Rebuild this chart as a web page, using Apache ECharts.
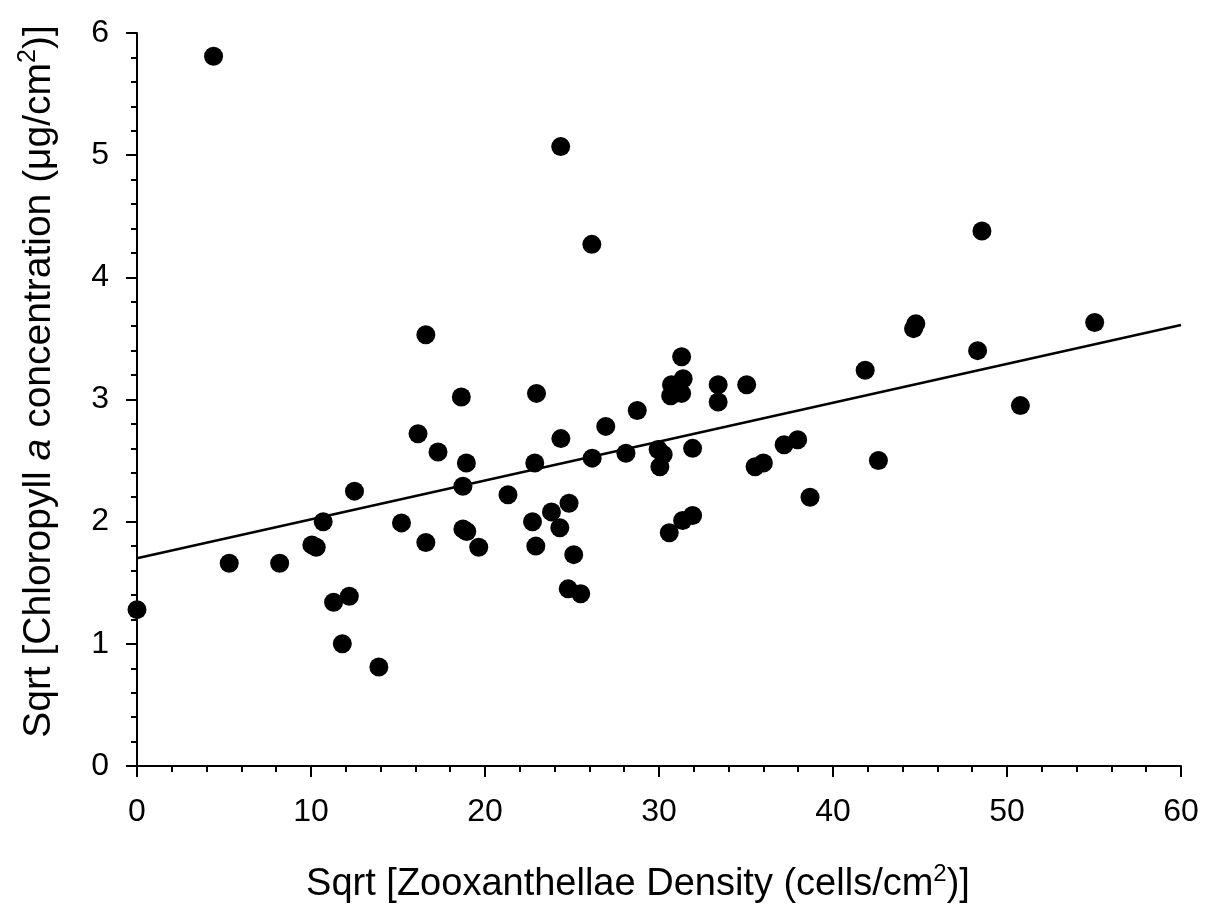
<!DOCTYPE html>
<html>
<head>
<meta charset="utf-8">
<title>Chlorophyll a vs Zooxanthellae density</title>
<script src="https://cdn.jsdelivr.net/npm/echarts@6/dist/echarts.min.js"></script>
<style>
  html, body { margin: 0; padding: 0; background: #ffffff; }
  #chart { width: 1207px; height: 919px; }
</style>
</head>
<body>
<div id="chart"></div>
<script>
// Sqrt of zooxanthellae density (cells/cm2) for each sample
const zooxDensity = [
  0, 4.4, 5.3, 8.2, 10.05, 10.3, 10.7, 11.3, 11.8, 12.2,
  12.5, 13.9, 15.2, 16.15, 16.6, 16.6, 17.3, 18.64, 18.73, 18.93,
  18.73, 18.95, 19.64, 21.32, 22.73, 22.86, 22.92, 22.96, 23.82, 24.3,
  24.36, 24.35, 24.83, 24.78, 25.1, 25.5, 26.16, 26.14, 26.94, 28.1,
  28.75, 29.95, 30.24, 30.05, 30.59, 30.72, 30.67, 31.3, 31.39, 31.3,
  31.36, 31.93, 31.93, 33.4, 33.4, 35.04, 35.52, 36.0, 37.19, 37.97,
  38.68, 41.85, 42.61, 44.63, 44.76, 48.31, 48.56, 50.77, 55.04
];

// Sqrt of chlorophyll a concentration (ug/cm2) for the same samples
const chlorophyllA = [
  1.28, 5.81, 1.66, 1.66, 1.81, 1.79, 2.0, 1.34, 1.0, 1.39,
  2.25, 0.81, 1.99, 2.72, 1.83, 3.53, 2.57, 3.02, 2.29, 2.48,
  1.94, 1.92, 1.79, 2.22, 2.0, 2.48, 1.80, 3.05, 2.08, 1.95,
  2.68, 5.07, 2.15, 1.45, 1.73, 1.41, 2.52, 4.27, 2.78, 2.56,
  2.91, 2.59, 2.55, 2.45, 1.91, 3.12, 3.03, 3.35, 3.17, 3.05,
  2.01, 2.60, 2.05, 3.12, 2.98, 3.12, 2.45, 2.48, 2.63, 2.67,
  2.20, 3.24, 2.50, 3.58, 3.62, 3.40, 4.38, 2.95, 3.63
];

// Least-squares fit line, end points at x = 0 and x = 60
const fitLineX = [0, 60];
const fitLineY = [1.70, 3.61];

// Axis tick values
const xTicks = [0, 10, 20, 30, 40, 50, 60];
const yTicks = [0, 1, 2, 3, 4, 5, 6];

const FONT = '"Liberation Sans", Arial, Helvetica, sans-serif';

const scatterData = zooxDensity.map((x, i) => [x, chlorophyllA[i]]);
const lineData = fitLineX.map((x, i) => [x, fitLineY[i]]);

const axisCommon = {
  type: 'value',
  axisLine: { show: true, onZero: false, lineStyle: { color: '#000', width: 2 } },
  axisTick: { show: true, inside: false, length: 11, lineStyle: { color: '#000', width: 2 } },
  minorTick: { show: true, splitNumber: 5, length: 6, lineStyle: { color: '#000', width: 2 } },
  splitLine: { show: false },
  minorSplitLine: { show: false },
  axisLabel: { color: '#000', fontFamily: FONT, fontSize: 32 }
};

function titleRich(size) {
  return {
    t: { fontFamily: FONT, fontSize: size, color: '#000', lineHeight: size + 8 },
    i: { fontFamily: FONT, fontSize: size, color: '#000', fontStyle: 'italic', lineHeight: size + 8 },
    sup: { fontFamily: FONT, fontSize: Math.round(size * 0.63), color: '#000', verticalAlign: 'top', lineHeight: size + 8 }
  };
}

const chart = echarts.init(document.getElementById('chart'), null, { renderer: 'canvas' });

chart.setOption({
  backgroundColor: '#ffffff',
  animation: false,
  grid: { left: 137, right: 26, top: 33, bottom: 153, containLabel: false },
  xAxis: Object.assign({}, axisCommon, {
    min: xTicks[0],
    max: xTicks[xTicks.length - 1],
    interval: xTicks[1] - xTicks[0],
    axisLabel: Object.assign({}, axisCommon.axisLabel, { margin: 30 }),
    name: '{t|Sqrt [Zooxanthellae Density (cells/cm}{sup|2}{t|)]}',
    nameLocation: 'middle',
    nameGap: 96,
    nameTextStyle: { rich: titleRich(38), padding: [0, 42, 0, 0] }
  }),
  yAxis: Object.assign({}, axisCommon, {
    min: yTicks[0],
    max: yTicks[yTicks.length - 1],
    interval: yTicks[1] - yTicks[0],
    axisLabel: Object.assign({}, axisCommon.axisLabel, { margin: 28 }),
    name: '{t|Sqrt [Chloropyll }{i|a}{t| concentration (\u03bcg/cm}{sup|2}{t|)]}',
    nameLocation: 'middle',
    nameGap: 74,
    nameRotate: 90,
    nameTextStyle: { rich: titleRich(39), padding: [0, 0, 0, 36] }
  }),
  series: [
    {
      type: 'line',
      data: lineData,
      symbol: 'none',
      lineStyle: { color: '#000', width: 2.5 },
      z: 2
    },
    {
      type: 'scatter',
      data: scatterData,
      symbol: 'circle',
      symbolSize: 19,
      itemStyle: { color: '#000', opacity: 1 },
      z: 3
    }
  ]
});
</script>
</body>
</html>
